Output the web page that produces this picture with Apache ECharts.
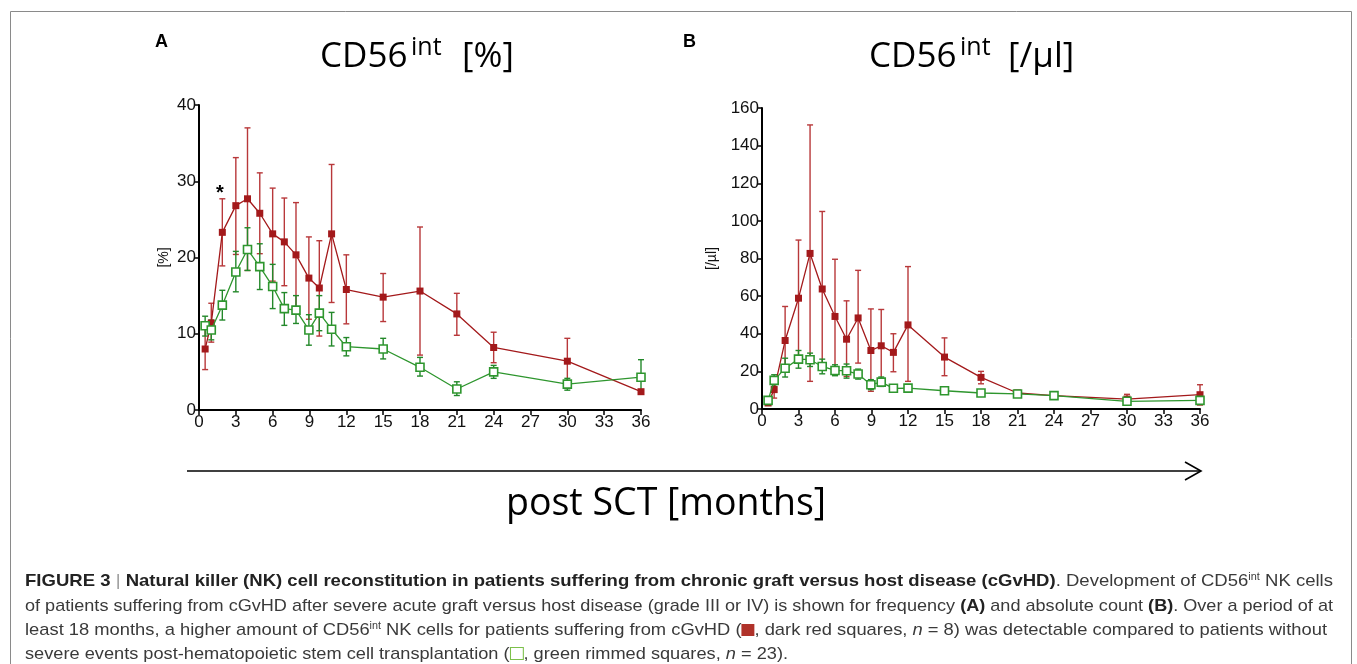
<!DOCTYPE html>
<html>
<head>
<meta charset="utf-8">
<script src="https://cdn.jsdelivr.net/npm/echarts@6/dist/echarts.min.js"></script>
<style>
html,body{margin:0;padding:0;background:#fff;}
#chart{position:absolute;left:0;top:0;width:1357px;height:664px;}
.cap{position:absolute;left:25px;white-space:nowrap;font-family:"Liberation Sans Narrow","Liberation Sans",Arial,sans-serif;font-size:17px;color:#3a3a3a;transform-origin:0 50%;line-height:18px;}
.cap b{color:#222;}
.cap sup{font-size:10px;vertical-align:6px;line-height:0;}
.sep{color:#999;font-weight:normal;}
.rsq{display:inline-block;width:12px;height:12px;background:#b0322a;vertical-align:-1px;}
.gsq{display:inline-block;width:11px;height:11px;border:1px solid #7cc04a;background:#fff;vertical-align:-1px;}
</style>
</head>
<body>
<div id="chart"></div>
<div class="cap" id="c1" style="top:572px"><b>FIGURE 3</b> <span class="sep">|</span> <b>Natural killer (NK) cell reconstitution in patients suffering from chronic graft versus host disease (cGvHD)</b>. Development of CD56<sup>int</sup> NK cells</div>
<div class="cap" id="c2" style="top:597px">of patients suffering from cGvHD after severe acute graft versus host disease (grade III or IV) is shown for frequency <b>(A)</b> and absolute count <b>(B)</b>. Over a period of at</div>
<div class="cap" id="c3" style="top:621px">least 18 months, a higher amount of CD56<sup>int</sup> NK cells for patients suffering from cGvHD (<span class="rsq"></span>, dark red squares, <i>n</i> = 8) was detectable compared to patients without</div>
<div class="cap" id="c4" style="top:645px">severe events post-hematopoietic stem cell transplantation (<span class="gsq"></span>, green rimmed squares, <i>n</i> = 23).</div>
<script>
// ---- data ----
const months = [0.5, 1, 1.9, 3, 3.95, 4.95, 6, 6.95, 7.9, 8.95, 9.8, 10.8, 12, 15, 18, 21, 24, 30, 36];
const xTicks = [0, 3, 6, 9, 12, 15, 18, 21, 24, 27, 30, 33, 36];

// Panel A: CD56int [%]
const pctRedMean = [8.0, 11.4, 23.3, 26.8, 27.7, 25.8, 23.1, 22.05, 20.35, 17.3, 16.0, 23.1, 15.8, 14.8, 15.6, 12.6, 8.2, 6.4, 2.4];
const pctRedLow  = [5.3, 8.9, 18.9, 20.4, 18.3, 20.5, 16.9, 16.3, 13.45, 11.9, 9.7, 14.1, 11.3, 11.6, 7.2, 9.8, 6.2, 3.5, 2.2];
const pctRedHigh = [10.7, 14.0, 27.7, 33.1, 37.0, 31.1, 29.1, 27.8, 27.2, 22.7, 22.2, 32.2, 20.35, 17.9, 24.0, 15.3, 10.2, 9.4, 2.6];
const pctGreenMean = [11.05, 10.5, 13.75, 18.1, 21.05, 18.8, 16.2, 13.3, 13.1, 10.5, 12.7, 10.6, 8.3, 8.0, 5.6, 2.75, 5.0, 3.4, 4.3];
const pctGreenLow  = [9.7, 9.2, 11.8, 15.5, 18.3, 15.8, 13.3, 11.1, 11.35, 8.5, 10.4, 8.4, 7.1, 6.7, 4.45, 1.9, 4.15, 2.6, 2.4];
const pctGreenHigh = [12.3, 11.8, 15.7, 20.8, 23.9, 21.8, 19.1, 15.4, 15.0, 12.5, 15.0, 12.8, 9.5, 9.4, 6.9, 3.7, 5.85, 4.15, 6.6];

// Panel B: CD56int [/µl]
const absRedMean = [3.2, 10.3, 36.4, 58.9, 82.7, 63.8, 49.2, 37.1, 48.4, 31.1, 33.6, 30.1, 44.7, 27.6, 16.8, 8.5, 7.1, 5.3, 7.6];
const absRedLow  = [2.0, 5.8, 20.0, 28.0, 14.7, 22.6, 19.1, 17.3, 24.4, 9.4, 14.7, 19.8, 14.7, 17.7, 13.4, 7.4, 6.5, 3.2, 2.1];
const absRedHigh = [4.5, 16.4, 54.5, 89.8, 151.0, 105.0, 79.6, 57.5, 73.7, 53.2, 52.9, 40.0, 75.7, 37.8, 20.0, 9.9, 7.7, 7.8, 12.9];
const absGreenMean = [4.6, 15.2, 21.7, 26.5, 26.2, 22.6, 20.5, 20.3, 18.6, 12.9, 14.3, 11.0, 11.1, 9.7, 8.5, 8.0, 7.1, 4.1, 4.6];
const absGreenLow  = [3.0, 12.0, 17.0, 21.7, 22.6, 18.7, 17.7, 16.4, 15.9, 10.3, 12.0, 9.5, 10.1, 8.0, 7.5, 7.0, 6.3, 3.2, 3.2];
const absGreenHigh = [6.2, 18.2, 27.0, 31.1, 29.7, 26.5, 23.5, 23.9, 21.2, 15.6, 17.0, 12.4, 12.1, 11.5, 9.5, 9.0, 7.9, 5.0, 6.0];

const pctTicks = [0, 10, 20, 30, 40];
const absTicks = [0, 20, 40, 60, 80, 100, 120, 140, 160];

// ---- styles ----
const RED = '#a3191b';
const RED_ERR = '#b8383a';
const GREEN = '#2e962e';
const GREEN_ERR = '#23882a';
const AXIS_FONT = 'Liberation Sans, Arial, sans-serif';
const TITLE_FONT = 'Open Sans, Noto Sans, sans-serif';

function pts(xs, ys) { return xs.map((x, i) => [x, ys[i]]); }
function errData(xs, lo, hi) { return xs.map((x, i) => [x, lo[i], hi[i]]); }

function errSeries(idx, data, color) {
  return {
    type: 'custom', xAxisIndex: idx, yAxisIndex: idx, z: 2, silent: true,
    data: data,
    renderItem: function (params, api) {
      const x = api.value(0);
      const p1 = api.coord([x, api.value(1)]);
      const p2 = api.coord([x, api.value(2)]);
      const w = 3;
      const st = { stroke: color, lineWidth: 1.4 };
      return {
        type: 'group',
        children: [
          { type: 'line', shape: { x1: p1[0], y1: p1[1], x2: p2[0], y2: p2[1] }, style: st },
          { type: 'line', shape: { x1: p1[0] - w, y1: p1[1], x2: p1[0] + w, y2: p1[1] }, style: st },
          { type: 'line', shape: { x1: p2[0] - w, y1: p2[1], x2: p2[0] + w, y2: p2[1] }, style: st }
        ]
      };
    }
  };
}

function lineSeries(idx, data, filled) {
  return {
    type: 'line', xAxisIndex: idx, yAxisIndex: idx, z: filled ? 3 : 4,
    data: data, symbol: 'rect', symbolSize: filled ? 7 : 8,
    showAllSymbol: true,
    lineStyle: { color: filled ? RED : GREEN, width: 1.3 },
    itemStyle: filled ? { color: RED } : { color: '#fff', borderColor: GREEN, borderWidth: 1.6 },
    emphasis: { disabled: true }, animation: false
  };
}

function xAxis(idx) {
  return {
    gridIndex: idx, type: 'value', min: 0, max: 36, interval: 3,
    axisLine: { show: true, onZero: false, lineStyle: { color: '#000', width: 2 } },
    axisTick: { show: true, length: 5, lineStyle: { color: '#000', width: 1.5 } },
    axisLabel: { color: '#111', fontSize: 17, fontFamily: AXIS_FONT, margin: 4,
      formatter: v => xTicks.includes(v) ? String(v) : '' },
    splitLine: { show: false }
  };
}
function yAxis(idx, ticks, name) {
  return {
    gridIndex: idx, type: 'value', min: ticks[0], max: ticks[ticks.length - 1], interval: ticks[1] - ticks[0],
    axisLine: { show: true, lineStyle: { color: '#000', width: 2 } },
    axisTick: { show: true, length: 5, lineStyle: { color: '#000', width: 1.5 } },
    axisLabel: { color: '#111', fontSize: 17, fontFamily: AXIS_FONT, margin: 3 },
    splitLine: { show: false },
    name: name, nameLocation: 'middle', nameRotate: 90,
    nameTextStyle: { fontSize: 14, fontFamily: AXIS_FONT, color: '#111' }
  };
}

const chart = echarts.init(document.getElementById('chart'), null, { renderer: 'canvas' });
const yA = yAxis(0, pctTicks, '[%]'); yA.nameGap = 28;
const yB = yAxis(1, absTicks, '[/µl]'); yB.nameGap = 43;

const option = {
  animation: false,
  backgroundColor: '#fff',
  grid: [
    { left: 199, top: 105, width: 442, height: 305 },
    { left: 762, top: 108, width: 438, height: 301 }
  ],
  xAxis: [xAxis(0), xAxis(1)],
  yAxis: [yA, yB],
  series: [
    errSeries(0, errData(months, pctRedLow, pctRedHigh), RED_ERR),
    errSeries(0, errData(months, pctGreenLow, pctGreenHigh), GREEN_ERR),
    lineSeries(0, pts(months, pctRedMean), true),
    lineSeries(0, pts(months, pctGreenMean), false),
    errSeries(1, errData(months, absRedLow, absRedHigh), RED_ERR),
    errSeries(1, errData(months, absGreenLow, absGreenHigh), GREEN_ERR),
    lineSeries(1, pts(months, absRedMean), true),
    lineSeries(1, pts(months, absGreenMean), false)
  ],
  graphic: [
    { type: 'rect', shape: { x: 10.5, y: 11.5, width: 1341, height: 700 }, style: { fill: 'none', stroke: '#8a8a8a', lineWidth: 1 }, silent: true },
    { type: 'text', left: 155, top: 33, style: { text: 'A', font: 'bold 18px Liberation Sans, Arial', fill: '#000' } },
    { type: 'text', left: 683, top: 33, style: { text: 'B', font: 'bold 18px Liberation Sans, Arial', fill: '#000' } },
    // titles
    { type: 'text', left: 320, top: 40, style: { text: 'CD56', font: '35px ' + TITLE_FONT, fill: '#000' } },
    { type: 'text', left: 411, top: 35, style: { text: 'int', font: '25px ' + TITLE_FONT, fill: '#000' } },
    { type: 'text', left: 462, top: 40, style: { text: '[%]', font: '35px ' + TITLE_FONT, fill: '#000' } },
    { type: 'text', left: 869, top: 40, style: { text: 'CD56', font: '35px ' + TITLE_FONT, fill: '#000' } },
    { type: 'text', left: 960, top: 35, style: { text: 'int', font: '25px ' + TITLE_FONT, fill: '#000' } },
    { type: 'text', left: 1008, top: 40, style: { text: '[/µl]', font: '35px ' + TITLE_FONT, fill: '#000' } },
    // asterisk
    { type: 'text', left: 216, top: 183, style: { text: '*', font: 'bold 20px Liberation Sans, Arial', fill: '#000' } },
    // arrow
    { type: 'line', shape: { x1: 187, y1: 471, x2: 1200, y2: 471 }, style: { stroke: '#000', lineWidth: 1.6 } },
    { type: 'polyline', shape: { points: [[1185, 462], [1201, 471], [1185, 480]] }, style: { stroke: '#000', lineWidth: 1.6, fill: 'none' } },
    { type: 'text', left: 506, top: 485, style: { text: 'post SCT [months]', font: '37.5px ' + TITLE_FONT, fill: '#000' } }
  ]
};
chart.setOption(option);

// fit caption lines to their measured widths in the reference
const targets = { c1: 1308, c2: 1308, c3: 1302, c4: 763 };
Object.keys(targets).forEach(id => {
  const el = document.getElementById(id);
  const w = el.getBoundingClientRect().width;
  el.style.transform = 'scaleX(' + (targets[id] / w) + ')';
});
</script>
</body>
</html>
